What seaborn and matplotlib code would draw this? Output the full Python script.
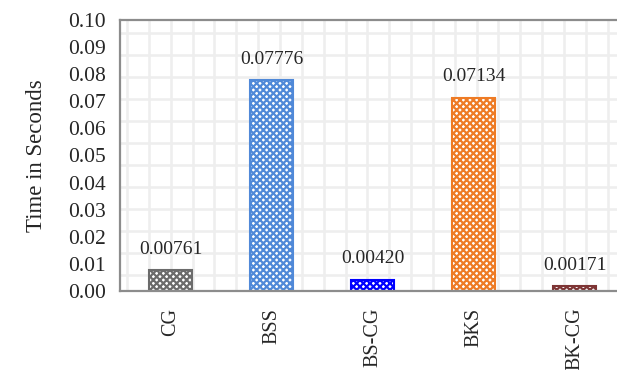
import numpy as np
import pandas as pd
import seaborn as sns
import matplotlib
matplotlib.use('Agg')
import matplotlib.pyplot as plt

methods = ['CG', 'BSS', 'BS-CG', 'BKS', 'BK-CG']
times = [0.00761, 0.07776, 0.00420, 0.07134, 0.00171]
colors = ['#6b6b6b', '#5089d8', '#0000ff', '#ee7b25', '#7e3535']

sns.set_style('white')
plt.rcParams['font.family'] = ['Liberation Serif', 'DejaVu Serif']
plt.rcParams['hatch.linewidth'] = 1.6

df = pd.DataFrame({'Method': methods, 'Time': times})

fig = plt.figure(figsize=(6.17, 3.70), dpi=100)
pos = [120 / 617, 1 - 291 / 370, 505 / 617, 271 / 370]

# light square grid behind the plot area
bg = fig.add_axes(pos, zorder=0)
bg.set_xlim(0, 505)
bg.set_ylim(271, 0)
bg.set_xticks(np.arange(7, 505, 21.85))
bg.set_yticks(np.arange(13, 271, 22))
bg.grid(True, color='#eeeeee', linewidth=1.9)
bg.tick_params(length=0, labelleft=False, labelbottom=False)
for s in bg.spines.values():
    s.set_visible(False)

ax = fig.add_axes(pos, zorder=1)
ax.patch.set_alpha(0)
sns.barplot(data=df, x='Method', y='Time', ax=ax, width=0.42,
            color='white', saturation=1)
for bar, c in zip(ax.patches, colors):
    bar.set_facecolor('white')
    bar.set_edgecolor(c)
    bar.set_hatch('xxxxx')
    bar.set_linewidth(1.5)

ax.bar_label(ax.containers[0], fmt='%.5f', padding=9, fontsize=14)

ax.set_xlim(-0.5, 4.5)
ax.set_ylim(0, 0.10)
ax.set_yticks(np.arange(0, 0.101, 0.01))
ax.set_yticklabels([f'{v:.2f}' for v in np.arange(0, 0.101, 0.01)], fontsize=15.5)
ax.set_xticks(range(len(methods)))
ax.set_xticklabels(methods, rotation=90, fontsize=14.5)
ax.set_xticks(np.arange(-0.5, 4.6, 1), minor=True)
ax.tick_params(axis='x', which='major', length=0, pad=12)
ax.tick_params(axis='x', which='minor', length=6, width=1.2, color='#8c8c8c', direction='out')
ax.tick_params(axis='y', length=6, width=1.2, color='#8c8c8c', direction='out', pad=4)
ax.set_xlabel('')
ax.set_ylabel('Time in Seconds', fontsize=16.5, labelpad=15)

for side in ['left', 'bottom', 'top']:
    ax.spines[side].set_visible(True)
    ax.spines[side].set_color('#8c8c8c')
    ax.spines[side].set_linewidth(1.6)
ax.spines['right'].set_visible(False)

fig.savefig('out.png', dpi=100)
